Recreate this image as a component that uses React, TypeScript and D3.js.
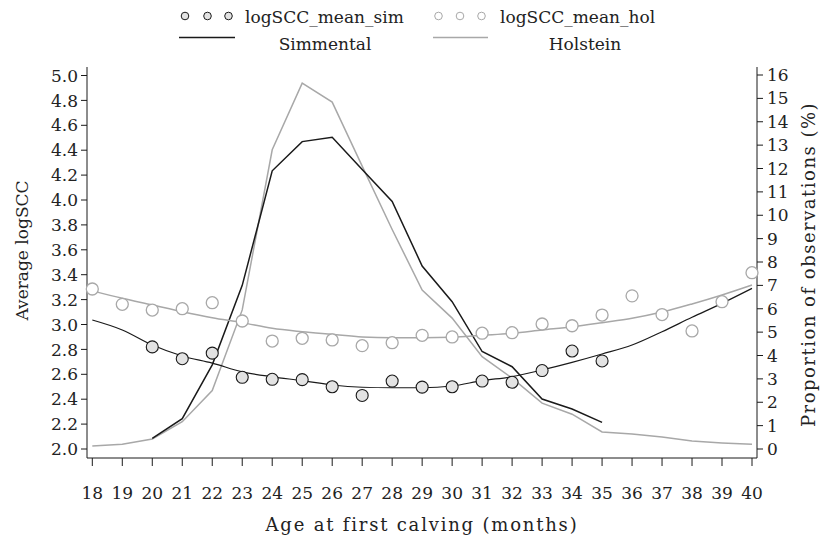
import React from "react";
import * as d3 from "d3";

const months = d3.range(18, 41);

// logSCC means (left axis)
const simMonths = [20, 21, 22, 23, 24, 25, 26, 27, 28, 29, 30, 31, 32, 33, 34, 35];
const simMean = [2.82, 2.725, 2.77, 2.576, 2.56, 2.557, 2.5, 2.43, 2.546, 2.497, 2.5, 2.546, 2.536, 2.63, 2.787, 2.707];
const holMonths = months;
const holMean = [3.285, 3.162, 3.116, 3.127, 3.175, 3.028, 2.867, 2.889, 2.876, 2.83, 2.854, 2.913, 2.9, 2.93, 2.934, 3.004, 2.99, 3.076, 3.23, 3.08, 2.948, 3.183, 3.416];

// fitted curves (left axis)
const simFit = [3.036, 2.956, 2.835, 2.747, 2.69, 2.62, 2.58, 2.549, 2.514, 2.496, 2.492, 2.492, 2.506, 2.549, 2.581, 2.635, 2.696, 2.763, 2.835, 2.942, 3.058, 3.17, 3.29];
const holFit = [3.27, 3.21, 3.157, 3.103, 3.055, 3.015, 2.969, 2.942, 2.921, 2.9, 2.894, 2.894, 2.897, 2.913, 2.929, 2.956, 2.982, 3.015, 3.05, 3.1, 3.165, 3.237, 3.317];

// proportion of observations, % (right axis)
const simPropMonths = [20, 21, 22, 23, 24, 25, 26, 27, 28, 29, 30, 31, 32, 33, 34, 35];
const simProp = [0.45, 1.3, 3.6, 7.0, 11.9, 13.15, 13.34, 11.96, 10.59, 7.83, 6.3, 4.17, 3.52, 2.14, 1.71, 1.14];
const holProp = [0.13, 0.2, 0.43, 1.17, 2.5, 5.95, 12.8, 15.65, 14.84, 12.1, 9.39, 6.8, 5.6, 3.95, 3.03, 1.96, 1.49, 0.73, 0.64, 0.51, 0.34, 0.26, 0.2];

const leftTicks = d3.range(2.0, 5.01, 0.2);
const rightTicks = d3.range(0, 17);

const FONT = "'DejaVu Serif', serif";
const FS = 17;
const TXT = "#222";
const BLACK = "#1a1a1a";
const GRAY = "#a8a8a8";

export default function App() {
  const W = 821, H = 536;
  const left = 87, right = 757, top = 67, bottom = 458;
  const x = d3.scaleLinear().domain([18, 40]).range([92.3, 752]);
  const yL = d3.scaleLinear().domain([2, 5]).range([449, 75.5]);
  const yR = d3.scaleLinear().domain([0, 16]).range([449, 75]);

  const lineR = d3.line<[number, number]>().x(d => x(d[0])).y(d => yR(d[1]));
  const fitL = d3.line<[number, number]>().x(d => x(d[0])).y(d => yL(d[1])).curve(d3.curveMonotoneX);

  const zip = (a: number[], b: number[]) => a.map((v, i) => [v, b[i]] as [number, number]);

  return (
    <svg width={W} height={H} style={{ display: "block", position: "absolute", left: 0, top: 0 }} fontFamily={FONT}>
      <rect width={W} height={H} fill="#fff" />
      {/* legend */}
      <g>
        {[185, 207.5, 228.5].map((cx, i) => (
          <circle key={"ls" + i} cx={cx} cy={16} r={3.8} fill="#e3e3e3" stroke={BLACK} strokeWidth={1} />
        ))}
        <text x={245} y={23} fontSize={FS} fill={TXT}>logSCC_mean_sim</text>
        <line x1={179} x2={235} y1={37.5} y2={37.5} stroke={BLACK} strokeWidth={1.5} />
        <text x={325} y={50} fontSize={FS} fill={TXT} textAnchor="middle">Simmental</text>
        {[438.5, 460, 481.5].map((cx, i) => (
          <circle key={"lh" + i} cx={cx} cy={16} r={3.8} fill="#fff" stroke={GRAY} strokeWidth={1} />
        ))}
        <text x={500} y={23} fontSize={FS} fill={TXT}>logSCC_mean_hol</text>
        <line x1={433} x2={488} y1={37.5} y2={37.5} stroke={GRAY} strokeWidth={1.5} />
        <text x={585} y={50} fontSize={FS} fill={TXT} textAnchor="middle">Holstein</text>
      </g>

      {/* frame */}
      <line x1={left} x2={left} y1={top} y2={bottom} stroke={BLACK} strokeWidth={1} />
      <line x1={right} x2={right} y1={top} y2={bottom} stroke={BLACK} strokeWidth={1} />
      <line x1={left} x2={right} y1={bottom} y2={bottom} stroke={BLACK} strokeWidth={1} />

      {/* left axis */}
      {leftTicks.map((t, i) => (
        <g key={"lt" + i}>
          <line x1={left - 6} x2={left} y1={yL(t)} y2={yL(t)} stroke={BLACK} />
          <text x={left - 9} y={yL(t)} dy="0.36em" textAnchor="end" fontSize={FS} fill={TXT}>{t.toFixed(1)}</text>
        </g>
      ))}
      <text transform={`translate(28,${(top + bottom) / 2 - 12}) rotate(-90)`} textAnchor="middle" fontSize={FS} fill={TXT}>Average logSCC</text>

      {/* right axis */}
      {rightTicks.map((t) => (
        <g key={"rt" + t}>
          <line x1={right} x2={right + 6} y1={yR(t)} y2={yR(t)} stroke={BLACK} />
          <text x={right + 10} y={yR(t)} dy="0.36em" textAnchor="start" fontSize={FS} fill={TXT}>{t}</text>
        </g>
      ))}
      <text transform={`translate(815,${(top + bottom) / 2 + 2}) rotate(-90)`} textAnchor="middle" fontSize={18} letterSpacing={1.5} fill={TXT}>Proportion of observations (%)</text>

      {/* x axis */}
      {months.map((m) => (
        <g key={"xt" + m}>
          <line x1={x(m)} x2={x(m)} y1={bottom} y2={bottom + 8} stroke={BLACK} />
          <text x={x(m)} y={499} textAnchor="middle" fontSize={FS} fill={TXT}>{m}</text>
        </g>
      ))}
      <text x={(left + right) / 2} y={531} textAnchor="middle" fontSize={18} letterSpacing={1.8} fill={TXT}>Age at first calving (months)</text>

      {/* proportion lines */}
      <path d={lineR(zip(months, holProp)) || ""} fill="none" stroke={GRAY} strokeWidth={1.5} />
      <path d={lineR(zip(simPropMonths, simProp)) || ""} fill="none" stroke={BLACK} strokeWidth={1.5} />

      {/* fitted curves */}
      <path d={fitL(zip(months, holFit)) || ""} fill="none" stroke={GRAY} strokeWidth={1.5} />
      <path d={fitL(zip(months, simFit)) || ""} fill="none" stroke={BLACK} strokeWidth={1.2} />

      {/* means */}
      {holMonths.map((m, i) => (
        <circle key={"h" + m} cx={x(m)} cy={yL(holMean[i])} r={6} fill="#fff" stroke={GRAY} strokeWidth={1.3} />
      ))}
      {simMonths.map((m, i) => (
        <circle key={"s" + m} cx={x(m)} cy={yL(simMean[i])} r={6} fill="#e3e3e3" stroke={BLACK} strokeWidth={1.1} />
      ))}
    </svg>
  );
}
